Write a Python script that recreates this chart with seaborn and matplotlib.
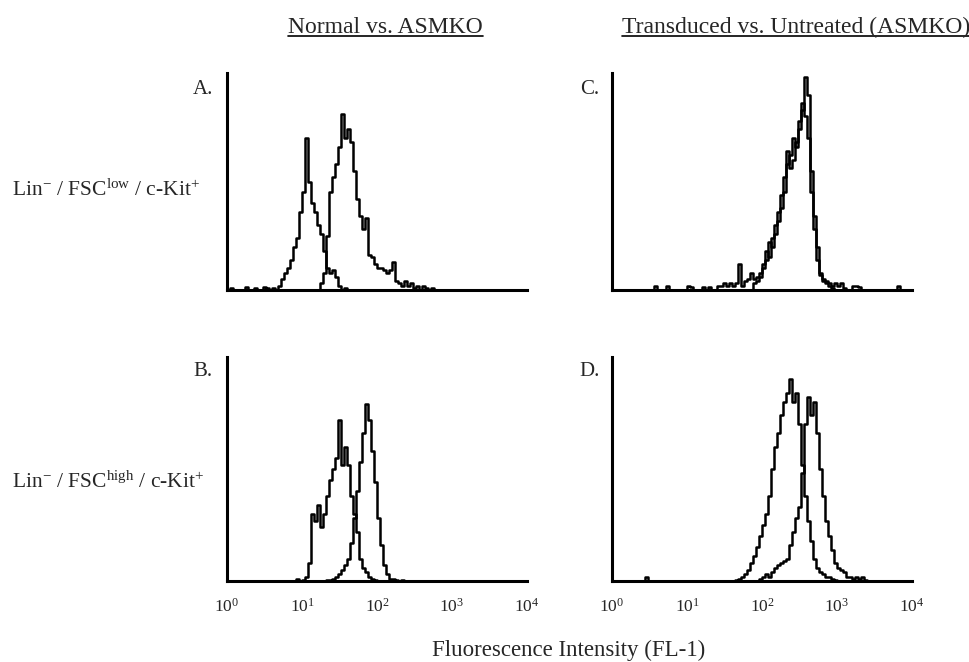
import numpy as np
import matplotlib
matplotlib.use("Agg")
import matplotlib.pyplot as plt
import seaborn as sns
from matplotlib.lines import Line2D

# ---------------- data ----------------
column_titles = ["Normal vs. ASMKO", "Transduced vs. Untreated (ASMKO)"]
row_labels = [r"Lin$^{-}$ / FSC$^{\mathrm{low}}$ / c-Kit$^{+}$",
              r"Lin$^{-}$ / FSC$^{\mathrm{high}}$ / c-Kit$^{+}$"]
panel_letters = ["A.", "B.", "C.", "D."]
tick_values = [1, 10, 100, 1000, 10000]
tick_labels = [r"10$^{0}$", r"10$^{1}$", r"10$^{2}$", r"10$^{3}$", r"10$^{4}$"]
x_label = "Fluorescence Intensity (FL-1)"

# histogram channels: 100 groups of 0.04 decade between 10^0 and 10^4
LOG_MIN, LOG_MAX, LOG_BIN = 0.0, 4.0, 0.04

# counts (axis top = 100) as (first channel index, counts...)
a_first = [(0, [0, 1, 0, 0, 0, 0, 1.5, 0, 0, 1, 0, 0, 1.5, 1, 0, 1, 0, 2, 5, 8,
                10, 14, 20, 24, 36, 45, 70, 50, 40, 36, 30, 26, 18, 10, 8, 9, 6, 2, 0, 1])]
a_second = [(31, [3, 8, 25, 45, 52, 58, 66, 81, 70, 74,
                  68, 55, 42, 34, 28, 33, 16, 15, 12, 10,
                  10, 9, 8, 9, 13, 4, 3, 2, 4, 2,
                  3, 1, 2, 0, 2, 1, 0, 1])]
b_first = [(23, [1, 0, 0.5, 2, 8, 30, 27, 34, 24, 30, 38, 45, 50, 55, 72, 52, 60, 52,
                 38, 30, 22, 10, 6, 4, 2, 1, 0.5])]
b_second = [(33, [0.5, 0.5, 1, 2, 3, 5, 7, 10, 17, 28, 40, 53, 66, 79, 72, 58, 44, 28,
                  16, 7, 3, 1, 1, 0.5, 0, 0.5])]
c_first = [(14, [2, 0, 0, 0, 2, 0, 0, 0, 0, 0, 0, 2, 1.5, 0, 0, 0, 1.5, 0, 1.5, 0,
                 0, 2, 2, 3, 2, 3, 2, 3, 12, 2, 4, 5, 8, 5, 6, 8, 10, 14, 22, 20,
                 26, 32, 38, 45, 64, 56, 60, 68, 74, 83, 98, 90, 55, 34, 20, 8, 5, 4, 3, 2,
                 3, 2, 3, 1, 0, 0, 2, 2, 1.5]),
           (95, [2])]
c_second = [(47, [3, 4, 6, 12, 18, 15, 24, 30, 36, 44,
                  52, 58, 62, 70, 66, 78, 86, 80, 70, 45,
                  28, 14, 7, 4, 3, 2, 1])]
d_first = [(11, [2]),
           (41, [0.5, 1, 2, 3, 5, 8, 11, 15, 20, 25,
                 30, 38, 50, 60, 66, 74, 80, 84, 90, 80,
                 84, 70, 52, 38, 27, 18, 10, 6, 4, 3,
                 2, 2, 1, 0.5])]
d_second = [(49, [1, 2, 3, 2, 4, 6, 7, 8, 9, 10,
                  16, 22, 28, 33, 48, 70, 82, 74, 80, 66,
                  50, 38, 27, 20, 14, 8, 6, 5, 4, 2,
                  2, 1, 2, 1, 2, 0.5])]

panel_series = {"A.": [a_first, a_second], "B.": [b_first, b_second],
                "C.": [c_first, c_second], "D.": [d_first, d_second]}

# ---------------- style ----------------
sns.set_style("white")
plt.rcParams["font.family"] = ["Liberation Serif", "DejaVu Serif"]
plt.rcParams["mathtext.fontset"] = "custom"
plt.rcParams["mathtext.rm"] = "Liberation Serif"
plt.rcParams["mathtext.it"] = "Liberation Serif:italic"
plt.rcParams["mathtext.bf"] = "Liberation Serif:bold"

W, H = 970, 662
fig = plt.figure(figsize=(W / 100, H / 100), dpi=100)
fig.patch.set_facecolor("white")

n_bins = int(round((LOG_MAX - LOG_MIN) / LOG_BIN))
centers = 10 ** (LOG_MIN + LOG_BIN * (np.arange(n_bins) + 0.5))


def expand(segments):
    counts = np.zeros(n_bins)
    for start, vals in segments:
        counts[start:start + len(vals)] = vals
    return counts


def px_rect(x0, y0, x1, y1):
    return [x0 / W, 1 - y1 / H, (x1 - x0) / W, (y1 - y0) / H]


panel_boxes = {"A.": (227, 73, 527, 290), "C.": (612, 73, 912, 290),
               "B.": (227, 357, 527, 581), "D.": (612, 357, 912, 581)}
letter_pos = {"A.": (203, 90), "C.": (590, 90), "B.": (203, 372), "D.": (590, 372)}

for letter in panel_letters:
    ax = fig.add_axes(px_rect(*panel_boxes[letter]))
    for seg in panel_series[letter]:
        sns.histplot(x=centers, weights=expand(seg), binwidth=LOG_BIN,
                     binrange=(LOG_MIN, LOG_MAX), log_scale=True,
                     element="step", fill=False, color="black",
                     linewidth=1.8, ax=ax)
    ax.set_xlim(10 ** LOG_MIN, 10 ** LOG_MAX)
    ax.set_ylim(0, 100)
    ax.set_xlabel("")
    ax.set_ylabel("")
    ax.set_yticks([])
    ax.set_xticks(tick_values)
    ax.minorticks_off()
    if letter in ("B.", "D."):
        ax.set_xticklabels(tick_labels, fontsize=12.5)
    else:
        ax.set_xticklabels([])
    ax.tick_params(axis="x", length=0, pad=12)
    sns.despine(ax=ax)
    for s in ("left", "bottom"):
        ax.spines[s].set_linewidth(2.2)
        ax.spines[s].set_color("black")
    lx, ly = letter_pos[letter]
    fig.text(lx / W, 1 - ly / H, letter, fontsize=15, ha="center", va="center")

titles = []
titles.append(fig.text(288 / W, 1 - 33 / H, column_titles[0], fontsize=17,
                       ha="left", va="baseline"))
titles.append(fig.text(622 / W, 1 - 33 / H, column_titles[1], fontsize=17,
                       ha="left", va="baseline"))

fig.text(12 / W, 1 - 190 / H, row_labels[0], fontsize=15.5, ha="left", va="center")
fig.text(12 / W, 1 - 482 / H, row_labels[1], fontsize=15.5, ha="left", va="center")

fig.text(569 / W, 1 - 650 / H, x_label, fontsize=16.5, ha="center", va="center")

# underline the column titles
fig.canvas.draw()
renderer = fig.canvas.get_renderer()
for t in titles:
    bb = t.get_window_extent(renderer)
    _, by = fig.transFigure.transform((0, 1 - 33 / H))
    yline = (by - 3) / H
    fig.add_artist(Line2D([bb.x0 / W, bb.x1 / W], [yline, yline],
                          transform=fig.transFigure, color="black", lw=1.2))

fig.savefig("out.png", dpi=100, facecolor="white")
